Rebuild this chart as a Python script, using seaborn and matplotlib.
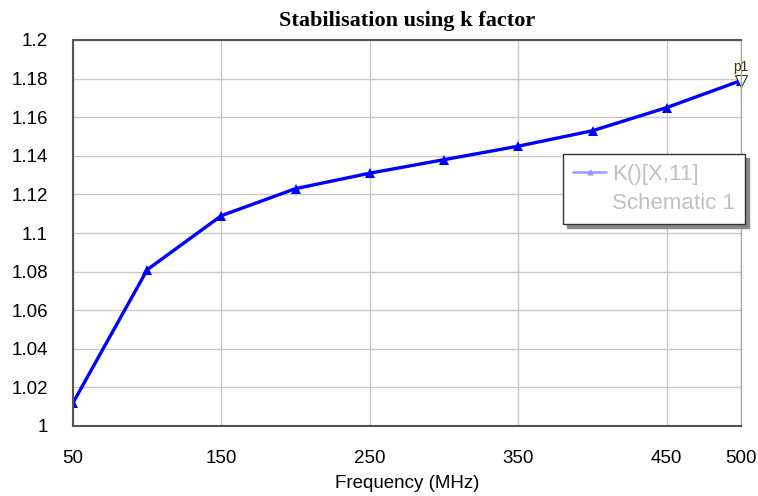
import numpy as np
import pandas as pd
import matplotlib.pyplot as plt
import seaborn as sns
from matplotlib.lines import Line2D

# data
freq = [50, 100, 150, 200, 250, 300, 350, 400, 450, 500]
k_factor = [1.012, 1.081, 1.109, 1.123, 1.131, 1.138, 1.145, 1.153, 1.165, 1.179]
x_ticks = [50, 150, 250, 350, 450, 500]
y_ticks = [1.0, 1.02, 1.04, 1.06, 1.08, 1.1, 1.12, 1.14, 1.16, 1.18, 1.2]
y_labels = ['1', '1.02', '1.04', '1.06', '1.08', '1.1', '1.12', '1.14', '1.16', '1.18', '1.2']

df = pd.DataFrame({'Frequency': freq, 'K': k_factor})

sns.set_style('whitegrid')
plt.rcParams['font.family'] = ['Liberation Sans', 'DejaVu Sans']

fig, ax = plt.subplots(figsize=(7.58, 4.96), dpi=100)
fig.subplots_adjust(left=73/758, right=741/758, top=1-40/496, bottom=1-426/496)

sns.lineplot(data=df, x='Frequency', y='K', ax=ax, color='#0000ff', linewidth=2.4,
             marker='^', markersize=6.5, markeredgewidth=0)

# marker p1 at the last point
ax.plot([freq[-1]], [k_factor[-1]], marker='v', markersize=9, markerfacecolor='white',
        markeredgecolor='#333333', markeredgewidth=0.8, linestyle='none', clip_on=False)
ax.annotate('p1', (freq[-1], k_factor[-1]), xytext=(0, 5), textcoords='offset points',
            ha='center', va='bottom', fontsize=10, color='#4a3000')

ax.set_xlim(50, 500)
ax.set_ylim(1.0, 1.2)
ax.set_xticks(x_ticks)
ax.set_yticks(y_ticks)
ax.set_yticklabels(y_labels)
ax.tick_params(axis='both', length=0, labelsize=13.5, colors='black')
ax.tick_params(axis='x', pad=17)
ax.tick_params(axis='y', pad=18)
ax.grid(True, color='#c8c8c8', linewidth=1)

for side in ['left', 'bottom', 'top']:
    ax.spines[side].set_color('#555555')
    ax.spines[side].set_linewidth(1.5)
ax.spines['right'].set_color('#aaaaaa')
ax.spines['right'].set_linewidth(1)

ax.set_xlabel('Frequency (MHz)', fontsize=13.5, labelpad=6, color='black')
ax.set_ylabel('')
ax.set_title('Stabilisation using k factor', fontsize=16, fontweight='bold',
             family='Liberation Serif', pad=10, color='black')

handles = [Line2D([], [], color='#9999ff', linewidth=1.8, marker='^', markersize=3.5),
           Line2D([], [], color='none')]
leg = ax.legend(handles, ['K()[X,11]', 'Schematic 1'], loc='upper left',
                bbox_to_anchor=(563/758, 1-154/496), bbox_transform=fig.transFigure,
                fontsize=16, labelcolor='#c0c0c0', frameon=True, fancybox=False,
                shadow={'color': '#888888', 'alpha': 1, 'ox': 3, 'oy': -3},
                edgecolor='#333333',
                handlelength=1.5, handletextpad=0.25, borderpad=0.45, labelspacing=0.35,
                borderaxespad=0)
leg.get_frame().set_linewidth(1)
leg.get_frame().set_alpha(1)

fig.savefig('out.png', dpi=100)
